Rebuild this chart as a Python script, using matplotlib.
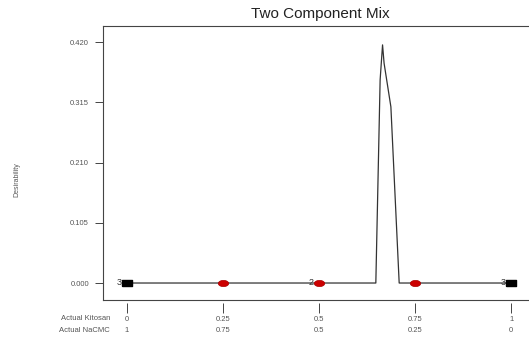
import matplotlib
matplotlib.use("Agg")
import matplotlib.pyplot as plt
import numpy as np

plt.rcParams['font.family'] = ['Liberation Sans', 'DejaVu Sans']

# design points (Kitosan fraction)
pt_x = [0, 0.25, 0.5, 0.75, 1]
pt_kind = ['vertex', 'mid', 'mid', 'mid', 'vertex']
pt_count = ['3', '', '2', '', '3']

# desirability trace
curve_x = [0, 0.6475, 0.6587, 0.665, 0.669, 0.6867, 0.7083, 1]
curve_y = [0, 0, 0.354, 0.415, 0.383, 0.307, 0, 0]

yticks = [0.000, 0.105, 0.210, 0.315, 0.420]
kitosan = ['0', '0.25', '0.5', '0.75', '1']
nacmc = ['1', '0.75', '0.5', '0.25', '0']

fig = plt.figure(figsize=(5.29, 3.37), dpi=100)
ax = fig.add_axes([103/529, 1 - 300/337, 1 - 103/529 + 0.01, (300 - 26)/337])

gray = '#555555'
ax.plot(curve_x, curve_y, color='#333333', lw=0.9, zorder=2)

rect = [(-1, -0.55), (1, -0.55), (1, 0.55), (-1, 0.55), (-1, -0.55)]
t = np.linspace(0, 2 * np.pi, 40)
oval = list(zip(np.cos(t), 0.6 * np.sin(t)))
for x, k, c in zip(pt_x, pt_kind, pt_count):
    if k == 'vertex':
        ax.plot(x, 0, marker=rect, color='black', ms=7.5, zorder=3)
    else:
        ax.plot(x, 0, marker=oval, color='#cc0000', mec='#aa0000', mew=0.5,
                ms=7.5, zorder=3)
    if c:
        ax.annotate(c, (x, 0), xytext=(-4, 0.5), textcoords='offset points',
                    ha='right', va='center', fontsize=6.5, color='#333333')

ax.set_xlim(-0.0627, 1.06)
ax.set_ylim(-0.0296, 0.4479)

ax.spines['right'].set_visible(False)
for s in ['left', 'bottom', 'top']:
    ax.spines[s].set_color('#444444')
    ax.spines[s].set_linewidth(0.8)

ax.set_yticks(yticks)
ax.set_yticklabels(['%.3f' % v for v in yticks])
ax.tick_params(axis='y', direction='out', length=6, width=0.7, color='#444444',
               labelsize=5.5, labelcolor=gray, pad=4)

# x ticks drawn detached below the frame
ax.set_xticks([])
sec = ax.secondary_xaxis(-0.012)
sec.spines['bottom'].set_visible(False)
sec.set_xticks(pt_x)
sec.set_xticklabels([a + '\n' + b for a, b in zip(kitosan, nacmc)],
                    linespacing=1.9)
sec.tick_params(axis='x', direction='out', length=7, width=0.7, color='#444444',
                labelsize=5.5, labelcolor=gray, pad=2)

fig.text(110/529, 1 - 318/337, 'Actual Kitosan', ha='right', va='center',
         fontsize=5.5, color=gray)
fig.text(110/529, 1 - 331/337, 'Actual NaCMC', ha='right', va='center',
         fontsize=5.5, color=gray)

fig.text(17/529, 1 - 180/337, 'Desirability', rotation=90, ha='center',
         va='center', fontsize=5, color=gray)

fig.text(320/529, 1 - 14/337, 'Two Component Mix', ha='center', va='center',
         fontsize=11, color='#222222')

fig.savefig('out.png', dpi=100)
